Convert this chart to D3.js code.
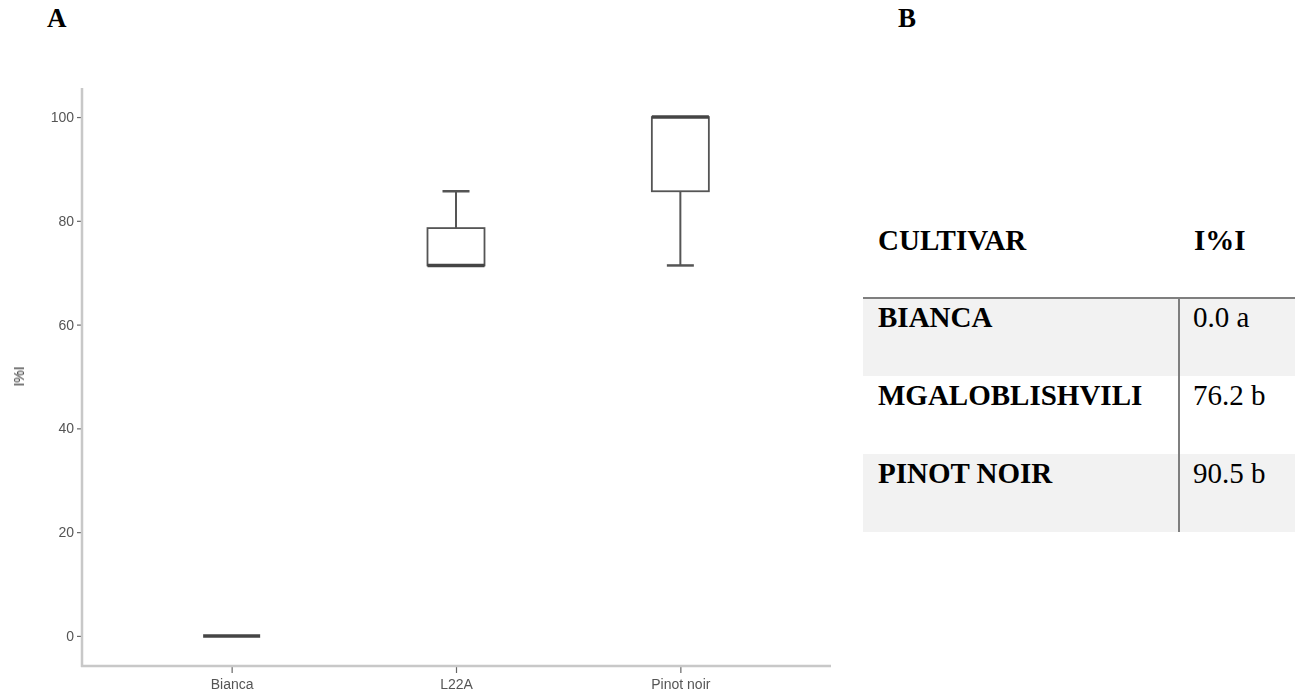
<!DOCTYPE html>
<html>
<head>
<meta charset="utf-8">
<script src="https://cdn.jsdelivr.net/npm/d3@7"></script>
<style>
  body { margin: 0; background: #fff; }
  svg { display: block; }
</style>
</head>
<body>
<script>
'use strict';

// panel A: box plot per cultivar
const cultivars = ['Bianca', 'L22A', 'Pinot noir'];
const mins    = [0, 71.4, 71.4];
const q1s     = [0, 71.4, 85.7];
const medians = [0, 71.4, 100];
const q3s     = [0, 78.6, 100];
const maxs    = [0, 85.7, 100];
const yTicks  = [0, 20, 40, 60, 80, 100];
const yLabel  = 'I%I';

// panel B: summary table
const tableHeader = ['CULTIVAR', 'I%I'];
const tableNames  = ['BIANCA', 'MGALOBLISHVILI', 'PINOT NOIR'];
const tableValues = ['0.0 a', '76.2 b', '90.5 b'];

const width = 1302, height = 697;

const svg = d3.select('body').append('svg')
    .attr('width', width)
    .attr('height', height);

// blurry look of the original screenshot
const defs = svg.append('defs');
defs.append('filter').attr('id', 'soft')
  .append('feGaussianBlur').attr('stdDeviation', 0.55);

// panel letters
svg.append('text').attr('x', 47).attr('y', 27)
  .attr('font-family', 'Liberation Serif, Times New Roman, serif')
  .attr('font-weight', 'bold').attr('font-size', 27).text('A');
svg.append('text').attr('x', 898).attr('y', 27)
  .attr('font-family', 'Liberation Serif, Times New Roman, serif')
  .attr('font-weight', 'bold').attr('font-size', 27).text('B');

// ---- chart A ----
const x = d3.scalePoint().domain(cultivars).range([82, 830]).padding(0.667);
const y = d3.scaleLinear().domain([-5.8, 105.6]).range([666, 88]);

const g = svg.append('g').attr('filter', 'url(#soft)');
const axisColor = '#c8c8c8';

const yAxis = g.append('g').attr('transform', 'translate(82,0)')
  .call(d3.axisLeft(y).tickValues(yTicks).tickSize(5).tickPadding(3));
yAxis.select('.domain').remove();
g.append('line').attr('x1', 82).attr('x2', 82).attr('y1', 88).attr('y2', 667)
  .attr('stroke', axisColor).attr('stroke-width', 2.5);

const xAxis = g.append('g').attr('transform', 'translate(0,666)')
  .call(d3.axisBottom(x).tickSize(7).tickPadding(6));
xAxis.select('.domain').remove();
g.append('line').attr('x1', 81).attr('x2', 831).attr('y1', 666).attr('y2', 666)
  .attr('stroke', axisColor).attr('stroke-width', 2.5);

g.selectAll('.tick line').attr('stroke', '#666').attr('stroke-width', 1.2);
g.selectAll('.tick text')
  .attr('fill', '#555')
  .attr('font-family', 'Liberation Sans, Arial, sans-serif')
  .attr('font-size', 14);

g.append('text')
  .attr('transform', `translate(24,${y(50)}) rotate(-90)`)
  .attr('text-anchor', 'middle')
  .attr('fill', '#333')
  .attr('font-family', 'Liberation Sans, Arial, sans-serif')
  .attr('font-size', 14)
  .text(yLabel);

const boxW = 57, capW = 27;
const stats = cultivars.map((c, i) => ({
  name: c, min: mins[i], q1: q1s[i], med: medians[i], q3: q3s[i], max: maxs[i]
}));

const box = g.selectAll('g.box').data(stats).join('g').attr('class', 'box')
  .attr('transform', d => `translate(${x(d.name)},0)`);

// whiskers
box.filter(d => d.max > d.q3).append('line')
  .attr('x1', 0).attr('x2', 0).attr('y1', d => y(d.q3)).attr('y2', d => y(d.max))
  .attr('stroke', '#555').attr('stroke-width', 2);
box.filter(d => d.max > d.q3).append('line')
  .attr('x1', -capW / 2).attr('x2', capW / 2).attr('y1', d => y(d.max)).attr('y2', d => y(d.max))
  .attr('stroke', '#555').attr('stroke-width', 2.5);
box.filter(d => d.min < d.q1).append('line')
  .attr('x1', 0).attr('x2', 0).attr('y1', d => y(d.q1)).attr('y2', d => y(d.min))
  .attr('stroke', '#555').attr('stroke-width', 2);
box.filter(d => d.min < d.q1).append('line')
  .attr('x1', -capW / 2).attr('x2', capW / 2).attr('y1', d => y(d.min)).attr('y2', d => y(d.min))
  .attr('stroke', '#555').attr('stroke-width', 2.5);

// box
box.filter(d => d.q3 > d.q1).append('rect')
  .attr('x', -boxW / 2).attr('width', boxW)
  .attr('y', d => y(d.q3)).attr('height', d => y(d.q1) - y(d.q3))
  .attr('fill', '#fff').attr('stroke', '#555').attr('stroke-width', 1.8);

// median
box.append('line')
  .attr('x1', -boxW / 2).attr('x2', boxW / 2)
  .attr('y1', d => y(d.med)).attr('y2', d => y(d.med))
  .attr('stroke', '#444').attr('stroke-width', 3.5);

// ---- table B ----
const tx0 = 863, tx1 = 1295, colX = 1179;
const rowTop = 298, rowH = 78;
const serif = 'Liberation Serif, Times New Roman, serif';
const fs = 29;

const t = svg.append('g');
t.selectAll('rect.row').data(tableNames).join('rect').attr('class', 'row')
  .attr('x', tx0).attr('width', tx1 - tx0)
  .attr('y', (d, i) => rowTop + i * rowH).attr('height', rowH)
  .attr('fill', (d, i) => i % 2 === 0 ? '#f2f2f2' : '#fff');

t.append('line').attr('x1', tx0).attr('x2', tx1).attr('y1', rowTop).attr('y2', rowTop)
  .attr('stroke', '#7f7f7f').attr('stroke-width', 2);
t.append('line').attr('x1', colX).attr('x2', colX)
  .attr('y1', rowTop).attr('y2', rowTop + rowH * tableNames.length)
  .attr('stroke', '#7f7f7f').attr('stroke-width', 2);

t.selectAll('text.head').data(tableHeader).join('text').attr('class', 'head')
  .attr('x', (d, i) => i === 0 ? 878 : 1194).attr('y', 250)
  .attr('font-family', serif).attr('font-weight', 'bold').attr('font-size', fs)
  .text(d => d);

t.selectAll('text.name').data(tableNames).join('text').attr('class', 'name')
  .attr('x', 878).attr('y', (d, i) => rowTop + 29 + i * rowH)
  .attr('font-family', serif).attr('font-weight', 'bold').attr('font-size', fs)
  .text(d => d);

t.selectAll('text.val').data(tableValues).join('text').attr('class', 'val')
  .attr('x', 1193).attr('y', (d, i) => rowTop + 29 + i * rowH)
  .attr('font-family', serif).attr('font-size', fs)
  .text(d => d);
</script>
</body>
</html>
